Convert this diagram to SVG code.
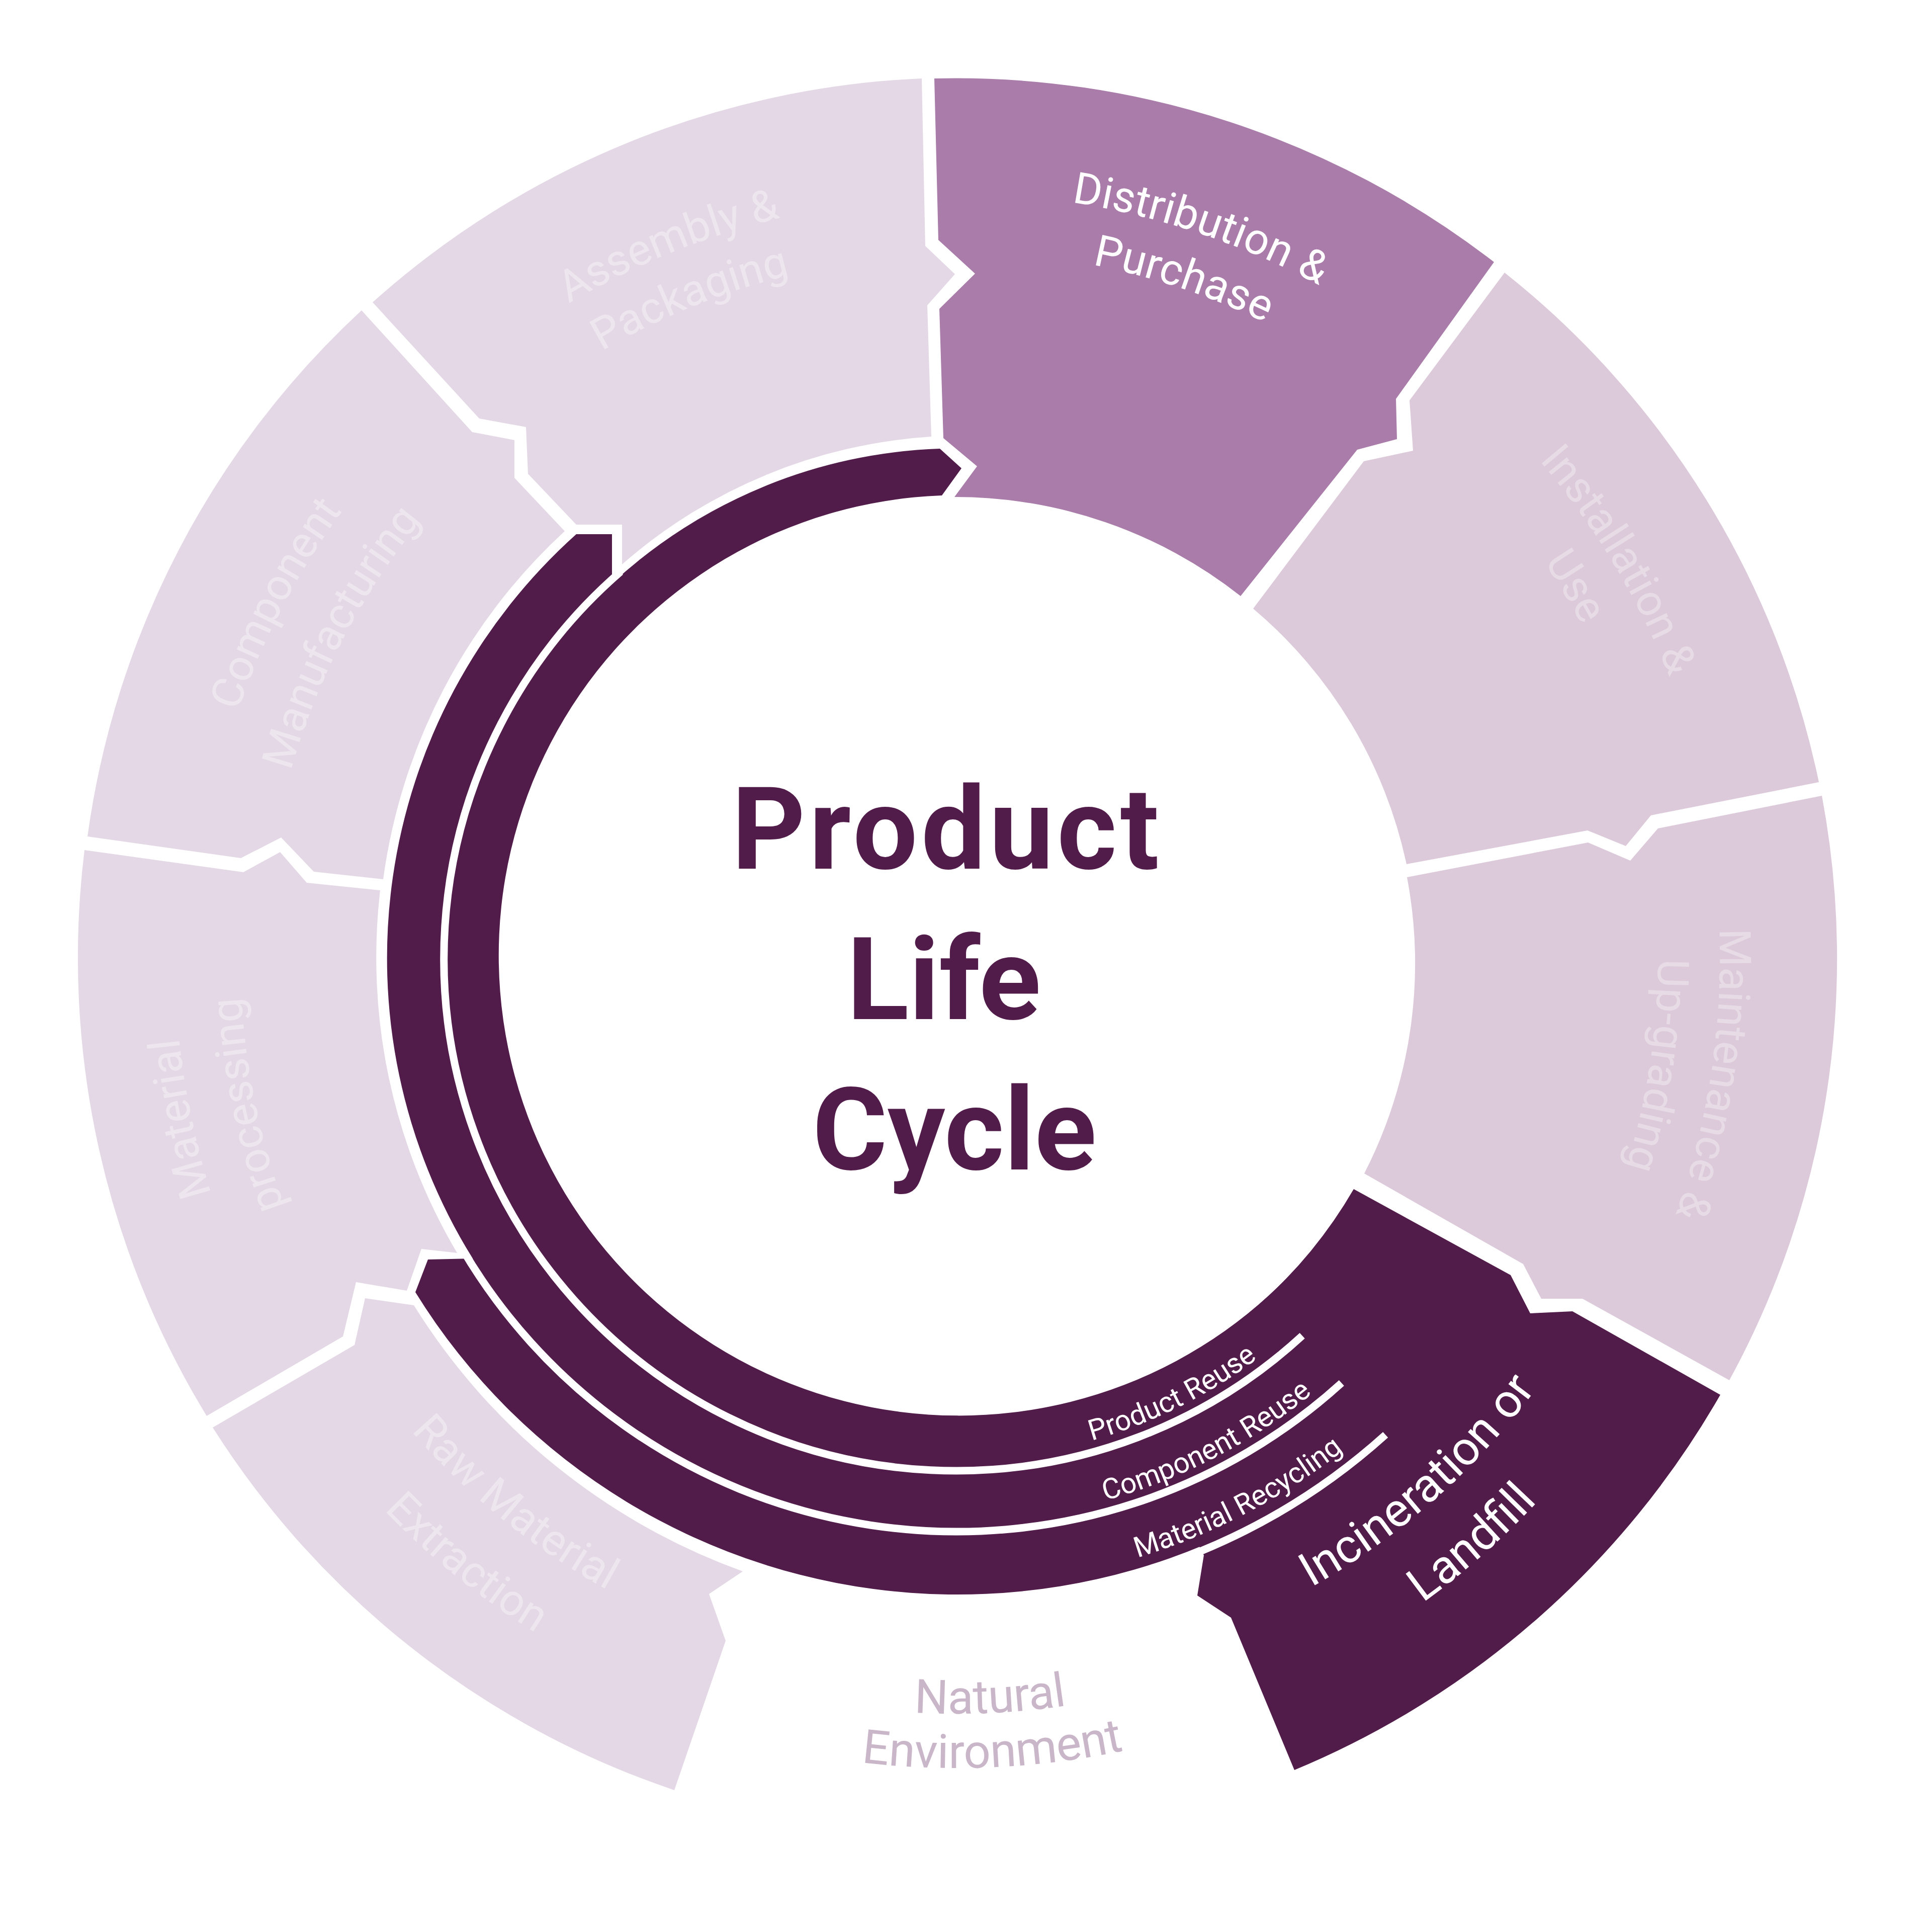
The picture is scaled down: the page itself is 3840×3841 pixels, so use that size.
<svg xmlns="http://www.w3.org/2000/svg" width="3840" height="3841" viewBox="0 0 3840 3841">
<defs>
<style>
.lt{fill:#E4D8E6}
.rt{fill:#DCCADB}
.md{fill:#A97CA9}
.dk{fill:#521C4A}
.sep{fill:none;stroke:#FFFFFF;stroke-width:15;stroke-linecap:butt}
text{font-family:Roboto,"Noto Sans","DejaVu Sans",sans-serif;text-anchor:middle}
.lbl{font-size:87px}
.big{font-size:94px}
.fl{fill:#EEE6EF}
.fr{fill:#E7DBE6}
.wt{fill:#FFFFFF}
.sm{font-size:57px;fill:#FFFFFF}
.nat{font-size:94px;fill:#C9B6C9}
.title{font-size:228px;font-weight:700;fill:#521C4A}
</style>
<path id="pDist1" d="M 1470.3 447.6 A 1520 1520 0 0 1 3123.9 1000.9"/>
<path id="pDist2" d="M 1503.0 557.9 A 1405 1405 0 0 1 3031.4 1069.3"/>
<path id="pAsm1" d="M 633.1 1081.0 A 1513 1513 0 0 1 2242.3 430.8"/>
<path id="pAsm2" d="M 729.5 1143.6 A 1398 1398 0 0 1 2216.5 542.8"/>
<path id="pCmp1" d="M 403.9 2102.2 A 1511 1511 0 0 1 1204.3 564.7"/>
<path id="pCmp2" d="M 538.8 2084.5 A 1375 1375 0 0 1 1267.1 685.4"/>
<path id="pMat1" d="M 836.2 3035.9 A 1554 1554 0 0 1 474.7 1290.3"/>
<path id="pMat2" d="M 925.3 2941.3 A 1424 1424 0 0 1 594.1 1341.7"/>
<path id="pIns1" d="M 2521.9 512.8 A 1524 1524 0 0 1 3422.3 2011.3"/>
<path id="pIns2" d="M 2475.1 617.8 A 1409 1409 0 0 1 3307.6 2003.3"/>
<path id="pMnt1" d="M 3262.9 1232.4 A 1518 1518 0 0 1 2999.4 2953.8"/>
<path id="pMnt2" d="M 3152.6 1286.9 A 1395 1395 0 0 1 2910.5 2868.8"/>
<path id="pInc1" d="M 2062.1 3332.0 A 1436 1436 0 0 0 3297.7 2242.6"/>
<path id="pInc2" d="M 2078.3 3477.1 A 1582 1582 0 0 0 3439.6 2277.0"/>
<path id="pRaw1" d="M 522.6 2300.5 A 1435 1435 0 0 0 1801.9 3336.5"/>
<path id="pRaw2" d="M 382.2 2340.8 A 1581 1581 0 0 0 1791.7 3482.1"/>
<path id="pNat1" d="M 1097.1 3173.1 A 1502 1502 0 0 0 2818.4 3095.0"/>
<path id="pNat2" d="M 1039.3 3264.4 A 1610 1610 0 0 0 2884.3 3180.6"/>
<path id="pPR" d="M 1751.3 2889.5 A 996 996 0 0 0 2775.6 2383.3"/>
<path id="pCR" d="M 1752.2 3012.9 A 1118 1118 0 0 0 2891.9 2424.7"/>
<path id="pMR" d="M 1739.5 3139.3 A 1245 1245 0 0 0 3006.3 2479.9"/>
</defs>
<rect width="3840" height="3841" fill="#FFFFFF"/>

<g id="assembly-packaging">
<path class="lt" d="M 741 601 A 1749 1749 0 0 1 1833 156 L 1840 489 L 1899 545 L 1844 607 L 1852 868 A 1033 1033 0 0 0 1237 1122 L 1237 1043 L 1146 1043 L 1050 942 L 1046 849 L 953 832 Z"/>
<text class="lbl fl"><textPath href="#pAsm1" startOffset="50%">Assembly &amp;</textPath></text>
<text class="lbl fl"><textPath href="#pAsm2" startOffset="50%">Packaging</textPath></text>
</g>

<g id="component-manufacturing">
<path class="lt" d="M 174 1663 A 1749 1749 0 0 1 719 617 L 939 859 L 1023 875 L 1023 950 L 1123 1056 A 1151 1151 0 0 0 762 1748 L 624 1733 L 559 1665 L 479 1706 Z"/>
<text class="lbl fl"><textPath href="#pCmp1" startOffset="50%">Component</textPath></text>
<text class="lbl fl"><textPath href="#pCmp2" startOffset="50%">Manufacturing</textPath></text>
</g>

<g id="material-processing">
<path class="lt" d="M 168 1690 L 484 1734 L 557 1694 L 610 1755 L 756 1770 A 1153 1153 0 0 0 909 2491 L 838 2483 L 809 2566 L 708 2549 L 682 2657 L 411 2815 A 1749 1749 0 0 1 168 1690 Z"/>
<text class="lbl fl"><textPath href="#pMat1" startOffset="50%">Material</textPath></text>
<text class="lbl fl"><textPath href="#pMat2" startOffset="50%">processing</textPath></text>
</g>

<g id="raw-material-extraction">
<path class="lt" d="M 423 2838 L 705 2674 L 726 2581 L 823 2595 A 1283 1283 0 0 0 1477 3124 L 1410 3169 L 1443 3262 L 1341 3559 A 1749 1749 0 0 1 423 2838 Z"/>
<text class="lbl fl"><textPath href="#pRaw1" startOffset="50%">Raw Material</textPath></text>
<text class="lbl fl"><textPath href="#pRaw2" startOffset="50%">Extraction</textPath></text>
</g>

<g id="distribution-purchase">
<path class="md" d="M 1858 156 A 1749 1749 0 0 1 2971 521 L 2776 793 L 2778 873 L 2699 894 L 2467 1185 A 917 917 0 0 0 1898 988 L 1943 927 L 1876 871 L 1868 614 L 1939 544 L 1866 477 Z"/>
<text class="lbl wt"><textPath href="#pDist1" startOffset="50%">Distribution &amp;</textPath></text>
<text class="lbl wt"><textPath href="#pDist2" startOffset="50%">Purchase</textPath></text>
</g>

<g id="installation-use">
<path class="rt" d="M 2992 542 A 1749 1749 0 0 1 3617 1555 L 3283 1621 L 3233 1682 L 3157 1651 L 2797 1718 A 914 914 0 0 0 2492 1210 L 2712 917 L 2810 896 L 2803 796 Z"/>
<text class="lbl fr"><textPath href="#pIns1" startOffset="50%">Installation &amp;</textPath></text>
<text class="lbl fr"><textPath href="#pIns2" startOffset="50%">Use</textPath></text>
</g>

<g id="maintenance-upgrading">
<path class="rt" d="M 3623 1582 L 3297 1647 L 3242 1711 L 3158 1675 L 2798 1744 A 914 914 0 0 1 2713 2333 L 3029 2513 L 3065 2582 L 3147 2582 L 3439 2744 A 1749 1749 0 0 0 3623 1582 Z"/>
<text class="lbl fr"><textPath href="#pMnt1" startOffset="50%">Maintenance &amp;</textPath></text>
<text class="lbl fr"><textPath href="#pMnt2" startOffset="50%">Up-grading</textPath></text>
</g>

<g id="incineration-landfill">
<path class="dk" d="M 2692 2364 L 3004 2535 L 3043 2611 L 3127 2607 L 3421 2773 A 1749 1749 0 0 1 2574 3519 L 2448 3216 L 2381 3172 L 2394 3092 L 2387 3079 L 2250.7 2751 A 915 915 0 0 0 2692 2364 Z"/>
</g>

<g id="natural-environment">
<text class="nat"><textPath href="#pNat1" startOffset="50%">Natural</textPath></text>
<text class="nat"><textPath href="#pNat2" startOffset="50%">Environment</textPath></text>
</g>

<g id="loops">
<path class="dk" d="M 1869 892 L 1912 931 L 1873 985 A 915 915 0 1 0 2602.9 2493.2 L 2873.3 2720.1 A 1268 1268 0 0 1 826 2569 L 851 2504 L 940 2502 A 1132 1132 0 0 1 1146 1062 L 1217 1062 L 1217 1160 A 1012 1012 0 0 1 1869 892 Z"/>
<path class="sep" d="M 1234.1 1136.7 A 1018 1018 0 1 0 2589.7 2655.5"/>
<path class="sep" d="M 919.7 2483.6 A 1140 1140 0 0 0 2667.8 2749.5"/>
<path class="sep" d="M 2387.9 3083.8 A 1275 1275 0 0 0 2755.2 2852.5"/>
<text class="sm"><textPath href="#pPR" startOffset="50%">Product Reuse</textPath></text>
<text class="sm"><textPath href="#pCR" startOffset="50%">Component Reuse</textPath></text>
<text class="sm"><textPath href="#pMR" startOffset="50%">Material Recycling</textPath></text>
</g>

<g id="incineration-label">
<text class="big wt"><textPath href="#pInc1" startOffset="50%">Incineration or</textPath></text>
<text class="big wt"><textPath href="#pInc2" startOffset="50%">Landfill</textPath></text>
</g>

<g id="center">
<text class="title" x="1880" y="1727" textLength="850" lengthAdjust="spacing">Product</text>
<text class="title" x="1877" y="2026">Life</text>
<text class="title" x="1898" y="2325">Cycle</text>
</g>
</svg>
